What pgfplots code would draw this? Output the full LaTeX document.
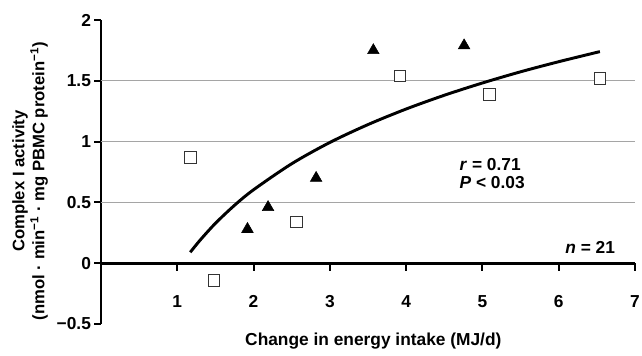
\documentclass[border=0pt]{standalone}
\usepackage{pgfplots}
\pgfplotsset{compat=1.18}
\usepackage{fontspec}
\setmainfont{Liberation Sans}
\definecolor{gridgray}{RGB}{165,165,165}
\begin{document}
\begin{tikzpicture}
\begin{axis}[
  scale only axis, width=400.5pt, height=228pt,
  xmin=0, xmax=7, ymin=-0.5, ymax=2,
  axis x line=middle, axis y line=left,
  every inner x axis line/.append style={-},
  every outer y axis line/.append style={-},
  axis line style={line width=2pt, black},
  ytick align=outside,
  major tick length=5pt,
  tick style={line width=1.6pt, black},
  xtick style={draw=none},
  xtick={1,2,3,4,5,6,7}, xticklabels={1,2,3,4,5,6,7},
  ytick={-0.5,0,0.5,1,1.5,2}, yticklabels={−0.5,0,0.5,1,1.5,2},
  ticklabel style={font=\bfseries\fontsize{13}{15}\selectfont},
  xticklabel style={anchor=center, yshift=-26pt},
  yticklabel style={xshift=1pt},
  xlabel={Change in energy intake (MJ/d)},
  ylabel={Complex I activity\\(nmol · min\textsuperscript{−1} · mg PBMC protein\textsuperscript{−1})},
  every axis x label/.style={at={(axis description cs:0.51,-0.056)}, anchor=center, font=\bfseries\fontsize{13}{15}\selectfont},
  every axis y label/.style={at={(axis description cs:-0.133,0.47)}, rotate=90, anchor=center, align=center, font=\bfseries\fontsize{12.5}{15}\selectfont},
  clip=false,
]
\addplot[gridgray, line width=0.75pt] coordinates {(0,0.5) (7,0.5)};
\addplot[gridgray, line width=0.75pt] coordinates {(0,1) (7,1)};
\addplot[gridgray, line width=0.75pt] coordinates {(0,1.5) (7,1.5)};
% x-axis tick marks (pointing down from y = 0)
\addplot[black, line width=1.6pt] coordinates {(1,0) (1,-0.065)};
\addplot[black, line width=1.6pt] coordinates {(2,0) (2,-0.065)};
\addplot[black, line width=1.6pt] coordinates {(3,0) (3,-0.065)};
\addplot[black, line width=1.6pt] coordinates {(4,0) (4,-0.065)};
\addplot[black, line width=1.6pt] coordinates {(5,0) (5,-0.065)};
\addplot[black, line width=1.6pt] coordinates {(6,0) (6,-0.065)};
\addplot[black, line width=1.6pt] coordinates {(7,0) (7,-0.065)};
\addplot[black, line width=2.2pt, smooth] coordinates {
 (1.17,0.090) (1.3,0.190) (1.5,0.328) (1.75,0.476) (2,0.604) (2.5,0.818)
 (3,0.993) (3.5,1.140) (4,1.268) (4.5,1.381) (5,1.482) (5.5,1.574)
 (6,1.657) (6.54,1.740)};
\addplot[only marks, mark=square*, mark size=4.3pt, mark options={fill=white, draw=black!80, line width=0.6pt}] coordinates {
 (1.17,0.87) (1.48,-0.14) (2.56,0.34) (3.92,1.54) (5.09,1.39) (6.54,1.52)};
\addplot[only marks, mark=triangle*, mark size=5pt, mark options={fill=black, draw=black}] coordinates {
 (1.92,0.28) (2.19,0.46) (2.82,0.70) (3.57,1.75) (4.76,1.79)};
\node[anchor=west, font=\bfseries\fontsize{13}{15}\selectfont] at (axis cs:4.64,0.81) {\textit{r} = 0.71};
\node[anchor=west, font=\bfseries\fontsize{13}{15}\selectfont] at (axis cs:4.64,0.66) {\textit{P} < 0.03};
\node[anchor=east, font=\bfseries\fontsize{13}{15}\selectfont] at (axis cs:6.8,0.13) {\textit{n} = 21};
\end{axis}
\pgfresetboundingbox
\path (-75.75pt,-24pt) rectangle (405.75pt,243pt);
\end{tikzpicture}
\end{document}
